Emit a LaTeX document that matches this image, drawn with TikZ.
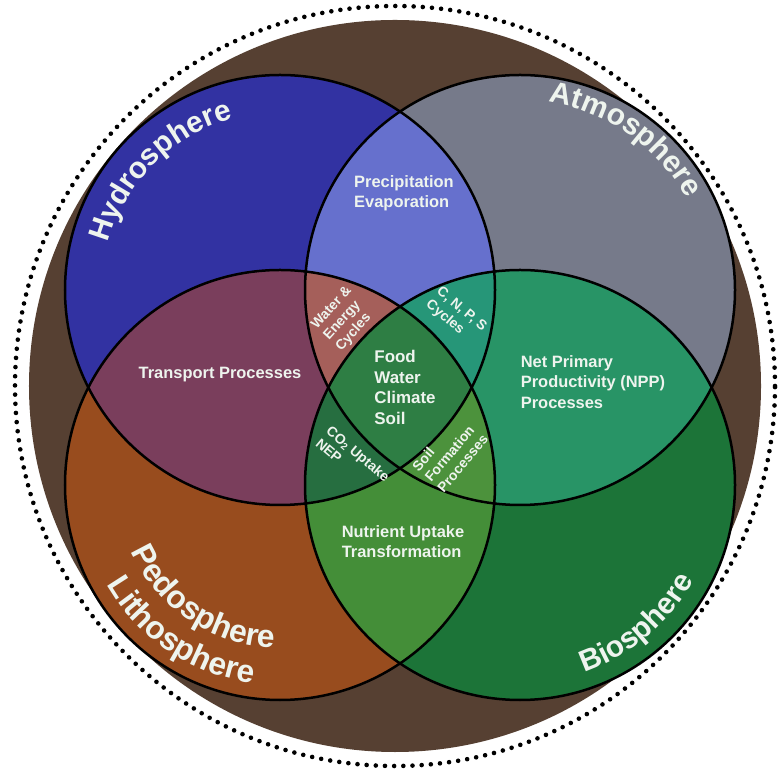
\documentclass[tikz,border=0pt]{standalone}
\usepackage{fontspec}
\setmainfont{Liberation Sans}
\usetikzlibrary{decorations.text}

% sphere and overlap colours
\definecolor{ringbg}{RGB}{86,64,50}
\definecolor{hydro}{RGB}{50,50,162}
\definecolor{atmo}{RGB}{118,122,138}
\definecolor{pedo}{RGB}{152,76,30}
\definecolor{bio}{RGB}{28,116,56}
\definecolor{hydroatmo}{RGB}{102,112,205}
\definecolor{hydropedo}{RGB}{122,62,92}
\definecolor{atmobio}{RGB}{40,148,102}
\definecolor{pedobio}{RGB}{68,142,56}
\definecolor{hydroatmopedo}{RGB}{165,95,90}
\definecolor{hydroatmobio}{RGB}{38,150,120}
\definecolor{hydropedobio}{RGB}{38,110,64}
\definecolor{atmopedobio}{RGB}{76,146,60}
\definecolor{core}{RGB}{46,126,68}
\definecolor{labeltext}{RGB}{238,244,238}

\newcommand\regionfont{\fontsize{16.5}{20.5}\selectfont\bfseries}
\newcommand\corefont{\fontsize{17}{20.5}\selectfont\bfseries}
\newcommand\smalllabelfont{\fontsize{14}{16.5}\selectfont\bfseries}
\newcommand\spherefont{\fontsize{30}{30}\selectfont\bfseries\color{labeltext}}
\newcommand\groundfont{\fontsize{32}{32}\selectfont\bfseries\color{labeltext}}
\def\R{215bp}

\begin{document}
\begin{tikzpicture}[x=1bp,y=1bp,
  region/.style={text=labeltext, font=\regionfont, align=left, inner sep=0pt},
  corelabel/.style={region, font=\corefont},
  smalllabel/.style={region, font=\smalllabelfont},
  rim/.style={draw=black, line width=2.5bp},
  spheretext/.style={decorate, decoration={text along path, text align=center, text={|\spherefont|#1}}},
  groundtext/.style={decorate, decoration={text along path, text align=center, text={|\groundfont|#1}}}
]
\useasboundingbox (0,0) rectangle (784,776);
\fill[white] (0,0) rectangle (784,776);

\coordinate (O) at (395,390);
\coordinate (H) at (280,486);
\coordinate (A) at (520,486);
\coordinate (P) at (280,291);
\coordinate (B) at (520,291);

% dotted outer ring and marbled disk
\draw[line width=4.6bp, line cap=round, dash pattern=on 0bp off 9.18bp] (O) circle[radius=380bp];
\fill[ringbg] (O) circle[radius=366bp];

% single spheres
\fill[hydro] (H) circle[radius=\R];
\fill[atmo] (A) circle[radius=\R];
\fill[pedo] (P) circle[radius=\R];
\fill[bio] (B) circle[radius=\R];

% pairwise overlaps
\begin{scope}
  \clip (H) circle[radius=\R];
  \fill[hydroatmo] (A) circle[radius=\R];
  \fill[hydropedo] (P) circle[radius=\R];
  \fill[core] (B) circle[radius=\R];
\end{scope}
\begin{scope}
  \clip (A) circle[radius=\R];
  \fill[core] (P) circle[radius=\R];
  \fill[atmobio] (B) circle[radius=\R];
\end{scope}
\begin{scope}
  \clip (P) circle[radius=\R];
  \fill[pedobio] (B) circle[radius=\R];
\end{scope}

% triple overlaps
\begin{scope}
  \clip (H) circle[radius=\R];
  \clip (A) circle[radius=\R];
  \fill[hydroatmopedo] (P) circle[radius=\R];
  \fill[hydroatmobio] (B) circle[radius=\R];
\end{scope}
\begin{scope}
  \clip (H) circle[radius=\R];
  \clip (P) circle[radius=\R];
  \fill[hydropedobio] (B) circle[radius=\R];
\end{scope}
\begin{scope}
  \clip (A) circle[radius=\R];
  \clip (P) circle[radius=\R];
  \fill[atmopedobio] (B) circle[radius=\R];
\end{scope}

% centre, shared by all four
\begin{scope}
  \clip (H) circle[radius=\R];
  \clip (A) circle[radius=\R];
  \clip (P) circle[radius=\R];
  \fill[core] (B) circle[radius=\R];
\end{scope}

% outlines
\draw[rim] (H) circle[radius=\R];
\draw[rim] (A) circle[radius=\R];
\draw[rim] (P) circle[radius=\R];
\draw[rim] (B) circle[radius=\R];

% sphere names along the rims
\path[spheretext=Hydrosphere] (H) ++(180:178bp) arc[start angle=180, end angle=90, radius=178bp];
\path[spheretext=Atmosphere] (A) ++(100:190bp) arc[start angle=100, end angle=10, radius=190bp];
\path[spheretext=Biosphere] (B) ++(-95:198bp) arc[start angle=-95, end angle=-5, radius=198bp];
\path[groundtext=Pedosphere] (P) ++(188:163bp) arc[start angle=188, end angle=284, radius=163bp];
\path[groundtext=Lithosphere] (P) ++(188:200bp) arc[start angle=188, end angle=284, radius=200bp];

% overlap labels
\node[region] (precip) at (404,583) {Precipitation\\Evaporation};
\node[region] (transport) at (220,401) {Transport Processes};
\node[region] (npp) at (593,394) {Net Primary\\Productivity (NPP)\\Processes};
\node[region] (nutrient) at (403,234.5) {Nutrient Uptake\\Transformation};
\node[corelabel] (core) at (405,388.5) {Food\\Water\\Climate\\Soil};
\node[smalllabel, rotate=48] (waterenergy) at (344,457) {Water \&\\Energy\\Cycles};
\node[smalllabel, rotate=-40] (cnps) at (456,460) {C, N, P, S\\Cycles};
\node[smalllabel, rotate=-40] (co2) at (353,316) {CO\textsubscript{2} Uptake\\NEP};
\node[smalllabel, rotate=50] (soilform) at (450,323) {Soil\\Formation\\Processes};
\end{tikzpicture}
\end{document}
